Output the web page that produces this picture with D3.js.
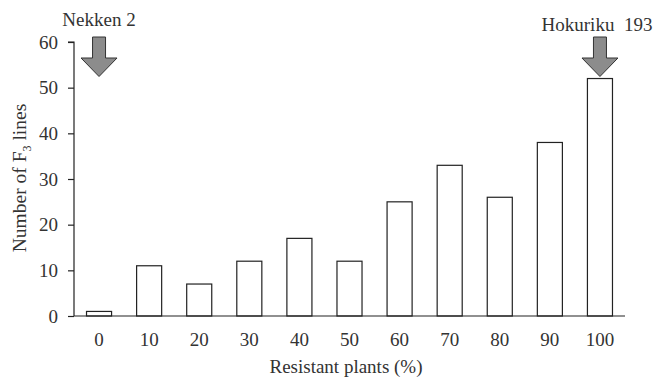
<!DOCTYPE html>
<html>
<head>
<meta charset="utf-8">
<script src="https://cdn.jsdelivr.net/npm/d3@7"></script>
<style>
body { margin: 0; background: #fff; }
svg text { font-family: "Liberation Serif", "Times New Roman", serif; fill: #333; }
</style>
</head>
<body>
<svg id="chart" width="656" height="381"></svg>
<script>
// data
var categories = ["0", "10", "20", "30", "40", "50", "60", "70", "80", "90", "100"];
var lineCounts = [1, 11, 7, 12, 17, 12, 25, 33, 26, 38, 52];
var yTicks = [0, 10, 20, 30, 40, 50, 60];
var parents = [{name: "Nekken 2", at: "0"}, {name: "Hokuriku  193", at: "100"}];

var svg = d3.select("#chart");
var mLeft = 74, mRight = 625, mTop = 42, mBottom = 316;

var x = d3.scaleBand().domain(categories).range([mLeft, mRight])
    .paddingInner(0.5).paddingOuter(0.25);
var y = d3.scaleLinear().domain([0, 60]).range([mBottom, mTop]);

// bars
svg.append("g").selectAll("rect")
    .data(lineCounts)
    .enter().append("rect")
    .attr("x", function (d, i) { return x(categories[i]); })
    .attr("y", function (d) { return y(d); })
    .attr("width", x.bandwidth())
    .attr("height", function (d) { return mBottom - y(d); })
    .style("fill", "#fff")
    .style("stroke", "#222")
    .style("stroke-width", 1.2);

// y axis
var yAxis = svg.append("g").attr("transform", "translate(" + mLeft + ",0)")
    .call(d3.axisLeft(y).tickValues(yTicks).tickSize(6).tickPadding(10));
yAxis.select(".domain").attr("d", "M-6," + y(60) + "H0V" + mBottom).style("stroke", "#222").style("stroke-width", 1.2);
yAxis.selectAll(".tick line").style("stroke", "#222").style("stroke-width", 1.2);
yAxis.selectAll(".tick text").style("font-size", "19px").style("font-family", "Liberation Serif");

// x axis: baseline, no ticks
var xAxis = svg.append("g").attr("transform", "translate(0," + mBottom + ")")
    .call(d3.axisBottom(x).tickSize(0).tickPadding(17));
xAxis.select(".domain").attr("d", "M" + mLeft + ",0H" + mRight).style("stroke", "#222").style("stroke-width", 1.2);
xAxis.selectAll(".tick text").style("font-size", "19px").style("font-family", "Liberation Serif");

// axis titles
svg.append("text")
    .attr("x", 346).attr("y", 373)
    .attr("text-anchor", "middle")
    .style("font-size", "19px")
    .text("Resistant plants (%)");

var ylab = svg.append("text")
    .attr("transform", "translate(26,178) rotate(-90)")
    .attr("text-anchor", "middle")
    .style("font-size", "19.5px");
ylab.append("tspan").text("Number of F");
ylab.append("tspan").attr("dy", 5).style("font-size", "12px").text("3");
ylab.append("tspan").attr("dy", -5).text(" lines");

// parent arrows
var arrow = "M-6.5,37H6.5V58H18L0,76.5L-18,58H-6.5Z";
var marks = svg.append("g").selectAll("g")
    .data(parents)
    .enter().append("g")
    .attr("transform", function (d) { return "translate(" + (x(d.at) + x.bandwidth() / 2) + ",0)"; });
marks.append("path")
    .attr("d", arrow)
    .style("fill", "#8c8c8c")
    .style("stroke", "#333")
    .style("stroke-width", 1);
marks.append("text")
    .attr("y", function (d, i) { return i === 0 ? 26 : 31; })
    .attr("x", function (d, i) { return i === 0 ? 0 : -3; })
    .attr("text-anchor", "middle")
    .style("font-size", "19px")
    .attr("xml:space", "preserve")
    .text(function (d) { return d.name; });
</script>
</body>
</html>
